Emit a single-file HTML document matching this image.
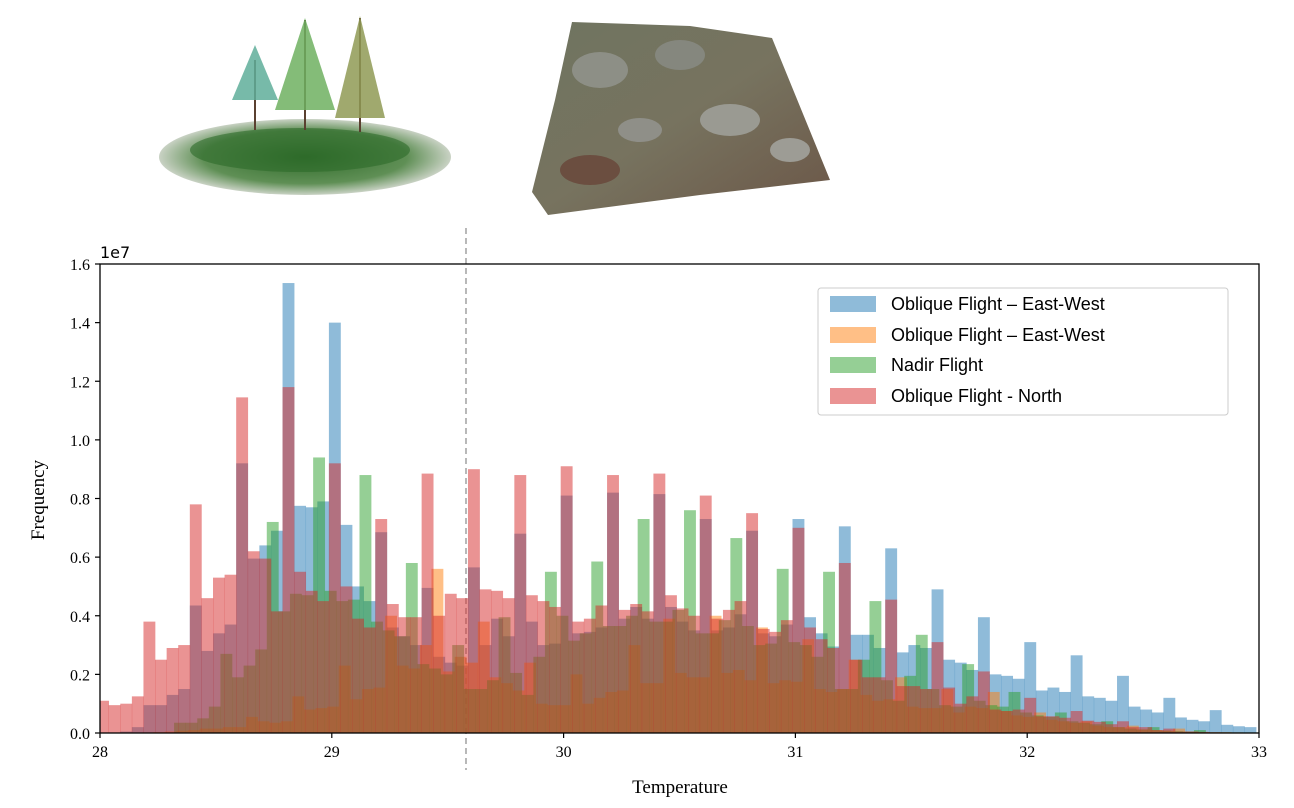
<!DOCTYPE html>
<html><head><meta charset="utf-8">
<style>
html,body{margin:0;padding:0;background:#fff;}
body{width:1294px;height:808px;overflow:hidden;position:relative;}
svg{position:absolute;left:0;top:0;}
</style></head>
<body>
<svg width="1294" height="808" viewBox="0 0 1294 808" xmlns="http://www.w3.org/2000/svg">
  <defs>
    <radialGradient id="grassG" cx="50%" cy="50%" r="50%">
      <stop offset="0%" stop-color="#2f6b2a"/>
      <stop offset="70%" stop-color="#5f8f55"/>
      <stop offset="100%" stop-color="#c9d2c4"/>
    </radialGradient>
    <linearGradient id="terrG" x1="0" y1="0" x2="1" y2="1">
      <stop offset="0%" stop-color="#6f7460"/>
      <stop offset="50%" stop-color="#77735f"/>
      <stop offset="100%" stop-color="#6b5647"/>
    </linearGradient>
    <clipPath id="plotClip"><rect x="100" y="264" width="1159" height="469"/></clipPath>
  </defs>

  <!-- top illustrations -->
  <g>
    <ellipse cx="305" cy="157" rx="146" ry="38" fill="url(#grassG)"/>
    <ellipse cx="300" cy="150" rx="110" ry="22" fill="#2d6a2a" opacity="0.6"/>
    <line x1="255" y1="60" x2="255" y2="130" stroke="#5a4030" stroke-width="2"/>
    <polygon points="255,45 232,100 278,100" fill="#5fae9a" opacity="0.85"/>
    <line x1="305" y1="20" x2="305" y2="130" stroke="#5a4030" stroke-width="2"/>
    <polygon points="305,18 275,110 335,110" fill="#6fb060" opacity="0.85"/>
    <line x1="360" y1="18" x2="360" y2="132" stroke="#5a4030" stroke-width="2"/>
    <polygon points="360,16 335,118 385,118" fill="#8f9a55" opacity="0.85"/>
  </g>
  <g>
    <polygon points="572,22 690,26 772,38 830,180 700,195 548,215 532,192 555,100" fill="url(#terrG)"/>
    <ellipse cx="600" cy="70" rx="28" ry="18" fill="#8d8f86"/>
    <ellipse cx="680" cy="55" rx="25" ry="15" fill="#85877e"/>
    <ellipse cx="730" cy="120" rx="30" ry="16" fill="#9a9a92"/>
    <ellipse cx="640" cy="130" rx="22" ry="12" fill="#8f8f88"/>
    <ellipse cx="790" cy="150" rx="20" ry="12" fill="#9d9c95"/>
    <ellipse cx="590" cy="170" rx="30" ry="15" fill="#6b4e40"/>
  </g>

  <!-- dashed line -->
  <line x1="466" y1="228" x2="466" y2="770" stroke="#8a8a8a" stroke-width="1.2" stroke-dasharray="6,4"/>

  <g id="bars" clip-path="url(#plotClip)"></g>

  <rect x="100" y="264" width="1159" height="469" fill="none" stroke="#000" stroke-width="1.3"/>
  <g id="axes"></g>

  <text x="100" y="258" font-family="DejaVu Sans, sans-serif" font-size="16">1e7</text>
  <text x="680" y="793" text-anchor="middle" font-family="Liberation Serif, serif" font-size="19">Temperature</text>
  <text x="0" y="0" transform="translate(44,500) rotate(-90)" text-anchor="middle" font-family="Liberation Serif, serif" font-size="19">Frequency</text>

  <g>
    <rect x="818" y="288" width="410" height="127" fill="#fff" stroke="#ccc" stroke-width="1" rx="3"/>
    <g>
      <rect x="830" y="296" width="46" height="16" fill="#1f77b4" fill-opacity="0.5"/>
      <text x="891" y="310" font-family="Liberation Sans, sans-serif" font-size="18">Oblique Flight – East-West</text>
    </g>
    <g>
      <rect x="830" y="327" width="46" height="16" fill="#ff7f0e" fill-opacity="0.5"/>
      <text x="891" y="341" font-family="Liberation Sans, sans-serif" font-size="18">Oblique Flight – East-West</text>
    </g>
    <g>
      <rect x="830" y="357" width="46" height="16" fill="#2ca02c" fill-opacity="0.5"/>
      <text x="891" y="371" font-family="Liberation Sans, sans-serif" font-size="18">Nadir Flight</text>
    </g>
    <g>
      <rect x="830" y="388" width="46" height="16" fill="#d62728" fill-opacity="0.5"/>
      <text x="891" y="402" font-family="Liberation Sans, sans-serif" font-size="18">Oblique Flight - North</text>
    </g>
  </g>
</svg>
<script>
// ---- data (values in units of 1e6 counts, 100 bins of width 0.05) ----
const binWidth = 0.05;
const blueStart = 27.9875, orangeStart = 27.98, greenStart = 28.0195, redStart = 27.9875;
const blueValues = [0,0,0.05,0.2,0.95,0.95,1.3,1.5,4.35,2.8,3.4,3.7,9.2,5.95,6.4,6.9,15.35,7.75,7.7,7.9,14.0,7.1,5.0,4.5,6.85,
 3.6,3.3,3.0,4.95,2.6,2.4,2.3,5.65,3.0,3.9,3.3,6.8,3.8,3.0,3.05,8.1,3.4,3.45,3.6,8.2,3.9,4.3,3.9,8.15,4.3,
 3.8,3.5,7.3,3.5,3.6,4.05,6.9,3.4,3.3,3.7,7.3,3.95,3.4,2.95,7.05,3.35,3.35,2.9,6.3,2.75,3.0,2.9,4.9,2.5,2.4,
 2.15,3.95,2.0,1.95,1.85,3.1,1.45,1.55,1.4,2.65,1.25,1.2,1.1,1.95,0.9,0.8,0.7,1.2,0.53,0.45,0.4,0.78,0.28,0.23,0.2];
const orangeValues = [0,0,0,0,0.02,0.03,0.05,0.08,0.1,0.15,0.15,0.2,0.2,0.55,0.4,0.35,0.4,1.25,0.8,0.85,0.9,2.3,1.15,1.5,1.55,
 4.0,2.3,2.2,3.0,5.6,2.1,2.6,2.4,3.8,1.9,1.7,1.45,2.4,1.0,0.95,0.95,2.0,1.0,1.2,1.4,1.45,3.0,1.7,1.7,3.9,
 2.05,1.9,1.9,4.0,2.05,2.15,1.8,3.6,1.7,1.8,1.75,3.2,1.5,1.4,1.5,2.5,1.3,1.1,1.15,1.9,0.9,0.85,0.85,1.5,0.7,
 0.9,0.85,1.4,0.75,0.6,0.55,0.7,0.45,0.4,0.35,0.4,0.25,0.2,0.2,0.25,0.12,0.1,0.08,0.15,0.05,0.04,0.03,0.03,0.02,0.01];
const greenValues = [0,0,0,0,0,0,0.35,0.35,0.5,0.9,2.7,1.9,2.3,2.85,7.2,4.15,4.75,4.7,9.4,4.85,4.5,4.55,8.8,3.8,3.5,
 3.3,5.8,2.35,2.2,2.0,3.0,1.5,1.5,1.8,3.95,2.05,1.3,2.6,5.5,4.0,3.15,3.4,5.85,3.65,3.65,4.0,7.3,3.8,3.8,4.2,
 7.6,3.4,3.4,3.85,6.65,3.65,3.0,3.05,5.6,3.1,3.0,2.6,5.5,1.5,1.5,2.5,4.5,1.8,1.1,1.95,3.35,1.5,0.95,0.9,2.35,
 1.1,0.95,0.9,1.4,0.7,0.6,0.55,0.7,0.4,0.35,0.3,0.4,0.2,0.15,0.12,0.2,0.08,0.06,0.05,0.1,0.02,0.02,0.02,0.02,0.02];
const redValues = [1.1,0.95,1.0,1.25,3.8,2.5,2.9,3.0,7.8,4.6,5.3,5.4,11.45,6.2,5.95,4.15,11.8,5.5,4.85,4.5,9.2,5.0,3.9,3.6,7.3,
 4.4,3.95,3.95,8.85,4.0,4.75,4.6,9.0,4.9,4.85,4.6,8.8,4.7,4.5,4.3,9.1,3.8,3.9,4.35,8.8,4.2,4.4,4.15,8.85,4.7,
 4.25,4.0,8.1,3.9,4.2,4.5,7.5,3.55,3.45,3.85,7.0,3.6,3.2,2.9,5.8,2.5,1.9,1.9,4.55,1.6,1.6,1.5,3.1,1.55,1.0,
 1.25,2.1,0.8,0.75,0.8,1.2,0.57,0.57,0.52,0.75,0.42,0.38,0.3,0.4,0.2,0.2,0.1,0.15,0.05,0.05,0.03,0.02,0,0,0];
const xTicks = [28,29,30,31,32,33];
const yTicks = [0,0.2,0.4,0.6,0.8,1.0,1.2,1.4,1.6];

// ---- scales ----
const X0 = 100, X1 = 1259, Y0 = 733, Y1 = 264;
function xs(v){ return X0 + (v - 28) / 5 * (X1 - X0); }
function ys(v){ return Y0 - v / 16 * (Y0 - Y1); } // v in 1e6

const NS = 'http://www.w3.org/2000/svg';
const barsG = document.getElementById('bars');
function drawSeries(values, start, color, name){
  const g = document.createElementNS(NS, 'g');
  
  
  values.forEach((v, i) => {
    if (v <= 0) return;
    const a = start + i * binWidth, b = a + binWidth;
    const r = document.createElementNS(NS, 'rect');
    r.setAttribute('x', xs(a));
    r.setAttribute('width', xs(b) - xs(a) + 0.3);
    r.setAttribute('y', ys(v));
    r.setAttribute('height', Y0 - ys(v));
    r.setAttribute('fill', color);
    r.setAttribute('fill-opacity', '0.5');
    
    
    g.appendChild(r);
  });
  barsG.appendChild(g);
}
drawSeries(blueValues, blueStart, '#1f77b4', 'series-oblique-east-west-1');
drawSeries(orangeValues, orangeStart, '#ff7f0e', 'series-oblique-east-west-2');
drawSeries(greenValues, greenStart, '#2ca02c', 'series-nadir');
drawSeries(redValues, redStart, '#d62728', 'series-oblique-north');

const axes = document.getElementById('axes');
xTicks.forEach(t => {
  const x = xs(t);
  const l = document.createElementNS(NS, 'line');
  l.setAttribute('x1', x); l.setAttribute('x2', x);
  l.setAttribute('y1', Y0); l.setAttribute('y2', Y0 + 5);
  l.setAttribute('stroke', '#000'); l.setAttribute('stroke-width', '1.2');
  
  
  axes.appendChild(l);
  const tx = document.createElementNS(NS, 'text');
  tx.setAttribute('x', x); tx.setAttribute('y', Y0 + 24);
  tx.setAttribute('text-anchor', 'middle');
  tx.setAttribute('font-family', 'Liberation Serif, serif');
  tx.setAttribute('font-size', '16');
  tx.textContent = String(t);
  
  
  axes.appendChild(tx);
});
yTicks.forEach(t => {
  const y = ys(t * 10);
  const l = document.createElementNS(NS, 'line');
  l.setAttribute('x1', X0 - 5); l.setAttribute('x2', X0);
  l.setAttribute('y1', y); l.setAttribute('y2', y);
  l.setAttribute('stroke', '#000'); l.setAttribute('stroke-width', '1.2');
  
  
  axes.appendChild(l);
  const tx = document.createElementNS(NS, 'text');
  tx.setAttribute('x', X0 - 10); tx.setAttribute('y', y + 6);
  tx.setAttribute('text-anchor', 'end');
  tx.setAttribute('font-family', 'Liberation Serif, serif');
  tx.setAttribute('font-size', '16');
  tx.textContent = t.toFixed(1);
  
  
  axes.appendChild(tx);
});
</script>
</body></html>
